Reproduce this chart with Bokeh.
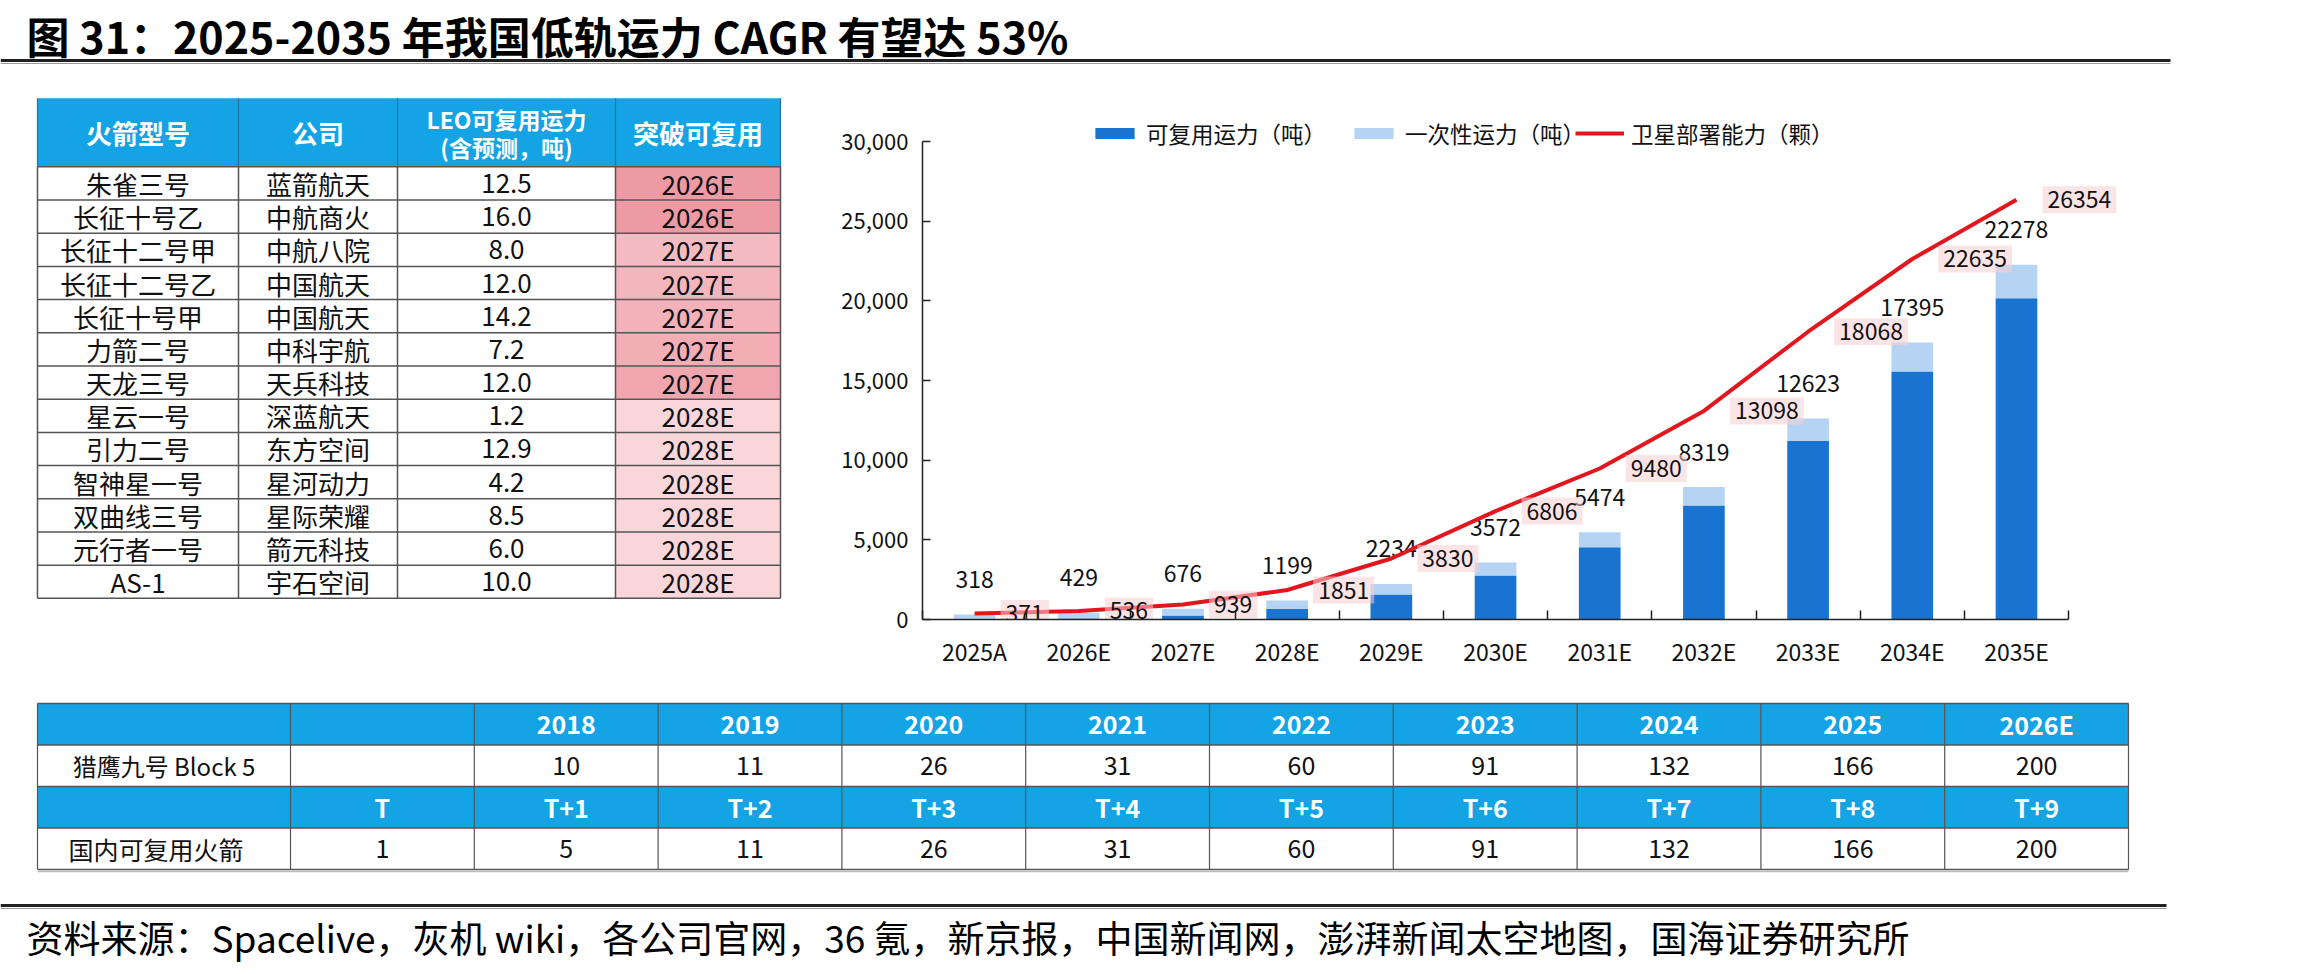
from bokeh.plotting import figure
from bokeh.layouts import column, row
from bokeh.models import Range1d, FixedTicker, NumeralTickFormatter, Legend, LegendItem
from bokeh.core.properties import value
from bokeh.embed import file_html
from bokeh.resources import INLINE

FONT = "Noto Sans CJK SC"

# ---------------- data ----------------
title_text = "图 31：2025-2035 年我国低轨运力 CAGR 有望达 53%"
source_text = "资料来源：Spacelive，灰机 wiki，各公司官网，36 氪，新京报，中国新闻网，澎湃新闻太空地图，国海证券研究所"

years = ["2025A", "2026E", "2027E", "2028E", "2029E", "2030E",
         "2031E", "2032E", "2033E", "2034E", "2035E"]
total_capacity = [318, 429, 676, 1199, 2234, 3572, 5474, 8319, 12623, 17395, 22278]
reusable_capacity = [0, 60, 250, 670, 1570, 2760, 4530, 7150, 11200, 15570, 20170]
satellite_capacity = [371, 536, 939, 1851, 3830, 6806, 9480, 13098, 18068, 22635, 26354]
y_tick_values = [0, 5000, 10000, 15000, 20000, 25000, 30000]
legend_labels = ["可复用运力（吨）", "一次性运力（吨）", "卫星部署能力（颗）"]

rocket_header = ["火箭型号", "公司", ["LEO可复用运力", "(含预测，吨)"], "突破可复用"]
rocket_names = ["朱雀三号", "长征十号乙", "长征十二号甲", "长征十二号乙", "长征十号甲", "力箭二号",
                "天龙三号", "星云一号", "引力二号", "智神星一号", "双曲线三号", "元行者一号", "AS-1"]
rocket_companies = ["蓝箭航天", "中航商火", "中航八院", "中国航天", "中国航天", "中科宇航",
                    "天兵科技", "深蓝航天", "东方空间", "星河动力", "星际荣耀", "箭元科技", "宇石空间"]
rocket_capacity = [12.5, 16.0, 8.0, 12.0, 14.2, 7.2, 12.0, 1.2, 12.9, 4.2, 8.5, 6.0, 10.0]
rocket_reuse_year = ["2026E", "2026E", "2027E", "2027E", "2027E", "2027E", "2027E",
                     "2028E", "2028E", "2028E", "2028E", "2028E", "2028E"]

f9_label = "猎鹰九号 Block 5"
f9_years = ["2018", "2019", "2020", "2021", "2022", "2023", "2024", "2025", "2026E"]
f9_launches = [10, 11, 26, 31, 60, 91, 132, 166, 200]
cn_label = "国内可复用火箭"
cn_periods = ["T", "T+1", "T+2", "T+3", "T+4", "T+5", "T+6", "T+7", "T+8", "T+9"]
cn_launches = [1, 5, 11, 26, 31, 60, 91, 132, 166, 200]

# ---------------- styles ----------------
DARK_BLUE = "#1874D0"
LIGHT_BLUE = "#B5D4F4"
RED = "#E3161E"
HEAD_BLUE = "#14A3E4"
GRID = "#555555"
reuse_fill = ["#EE9AA4", "#EE9AA4", "#F5BBC2", "#F4B6BD", "#F3B1B9", "#F2ADB5", "#F0A6AF",
              "#F9D6DA", "#F9D6DA", "#F9D6DA", "#F9D6DA", "#F9D6DA", "#F9D6DA"]

W, H = 2302, 974


def blank_fig(w, h, y_top, y_bottom):
    p = figure(width=w, height=h, x_range=Range1d(0, w), y_range=Range1d(y_bottom, y_top),
               toolbar_location=None, output_backend="svg",
               x_axis_location=None, y_axis_location=None, min_border=0)
    p.grid.visible = False
    p.outline_line_color = None
    p.background_fill_color = "white"
    p.border_fill_color = "white"
    return p


# ---------------- header ----------------
top = blank_fig(W, 95, 0, 95)
top.text(x=[26], y=[34], text=[title_text], text_font=value(FONT), text_font_size="43px",
         text_font_style="bold", text_baseline="middle", text_color="#000000")
top.segment(x0=[0], y0=[60], x1=[2170], y1=[60], line_width=3, line_color="#222222")
top.segment(x0=[0], y0=[63], x1=[2170], y1=[63], line_width=1, line_color="#999999")

# ---------------- left table ----------------
left = blank_fig(790, 595, 95, 690)
cx = [37, 238, 397, 615, 780]
ht, hb = 98, 176
nrow = len(rocket_names)
rh = (666 - hb) / nrow
row_top = [hb + i * rh for i in range(nrow)]
row_bot = [t + rh for t in row_top]
row_mid = [t + rh / 2 for t in row_top]
col_mid = [(cx[i] + cx[i + 1]) / 2 for i in range(4)]

left.quad(left=[cx[0]], right=[cx[-1]], top=[ht], bottom=[hb], fill_color=HEAD_BLUE, line_color=None)
left.quad(left=[cx[3]] * nrow, right=[cx[4]] * nrow, top=row_top, bottom=row_bot,
          fill_color=reuse_fill, line_color=None)
for i, h in enumerate(rocket_header):
    if isinstance(h, list):
        left.text(x=[col_mid[i]] * 2, y=[122, 153], text=h, text_font=value(FONT),
                  text_font_size="23px", text_font_style="bold", text_color="white",
                  text_align="center", text_baseline="middle")
    else:
        left.text(x=[col_mid[i]], y=[(ht + hb) / 2], text=[h], text_font=value(FONT),
                  text_font_size="26px", text_font_style="bold", text_color="white",
                  text_align="center", text_baseline="middle")
cols = [rocket_names, rocket_companies, [f"{v:.1f}" for v in rocket_capacity], rocket_reuse_year]
for i, c in enumerate(cols):
    left.text(x=[col_mid[i]] * nrow, y=row_mid, text=c, text_font=value(FONT),
              text_font_size="26px", text_color="#111111", text_align="center", text_baseline="middle")
left.segment(x0=[cx[0]] * nrow, y0=row_bot, x1=[cx[-1]] * nrow, y1=row_bot, line_color=GRID, line_width=1.5)
left.segment(x0=[cx[0]], y0=[hb], x1=[cx[-1]], y1=[hb], line_color=GRID, line_width=1.5)
left.segment(x0=cx, y0=[hb] * 5, x1=cx, y1=[666] * 5, line_color=GRID, line_width=1.5)
left.segment(x0=cx, y0=[ht] * 5, x1=cx, y1=[hb] * 5, line_color="#2A6E9E", line_width=1.2)

# ---------------- chart ----------------
xs = list(range(len(years)))
chart = figure(width=1512, height=595, x_range=Range1d(-0.5, 11.2), y_range=Range1d(0, 32900),
               toolbar_location=None, output_backend="svg",
               min_border_left=132, min_border_right=161, min_border_top=0, min_border_bottom=71)
chart.grid.visible = False
chart.outline_line_color = None

r1 = chart.vbar(x=xs, bottom=0, top=reusable_capacity, width=0.4, fill_color=DARK_BLUE, line_color=None)
r2 = chart.vbar(x=xs, bottom=reusable_capacity, top=total_capacity, width=0.4,
                fill_color=LIGHT_BLUE, line_color=None)
chart.text(x=xs, y=total_capacity, text=[str(v) for v in total_capacity], y_offset=-35,
           text_font=value(FONT), text_font_size="23px", text_color="#111111",
           text_align="center", text_baseline="middle")
r3 = chart.line(x=xs, y=satellite_capacity, line_color=RED, line_width=4)
chart.text(x=xs, y=satellite_capacity, text=[str(v) for v in satellite_capacity], x_offset=26,
           text_font=value(FONT), text_font_size="23px", text_color="#111111",
           text_align="left", text_baseline="middle",
           background_fill_color="#F7CDD2", background_fill_alpha=0.55, padding=5)

xa = chart.xaxis[0]
xa.ticker = FixedTicker(ticks=xs, minor_ticks=[i - 0.5 for i in range(len(years) + 1)])
xa.bounds = (-0.5, 10.5)
xa.major_label_overrides = {i: y for i, y in enumerate(years)}
xa.major_tick_line_color = None
xa.major_tick_in = 0
xa.major_tick_out = 0
xa.minor_tick_in = 9
xa.minor_tick_out = 0
xa.minor_tick_line_color = "#222222"
xa.minor_tick_line_width = 1.5
xa.axis_line_color = "#222222"
xa.axis_line_width = 1.5
xa.major_label_text_font = FONT
xa.major_label_text_font_size = "23px"
xa.major_label_text_color = "#111111"
xa.major_label_standoff = 14

ya = chart.yaxis[0]
ya.ticker = FixedTicker(ticks=y_tick_values)
ya.formatter = NumeralTickFormatter(format="0,0")
ya.bounds = (0, 30000)
ya.major_tick_in = 8
ya.major_tick_out = 0
ya.major_tick_line_color = "#222222"
ya.major_tick_line_width = 1.5
ya.minor_tick_line_color = None
ya.axis_line_color = "#222222"
ya.axis_line_width = 1.5
ya.major_label_text_font = FONT
ya.major_label_text_font_size = "22px"
ya.major_label_text_color = "#111111"
ya.major_label_standoff = 14

legend_style = dict(orientation="horizontal", glyph_width=49, glyph_height=14, label_standoff=7,
                    padding=0, margin=0, border_line_color=None, background_fill_alpha=0,
                    label_text_font=FONT, label_text_font_size="22.5px", label_text_color="#111111")
legend_a = Legend(items=[LegendItem(label=legend_labels[0], renderers=[r1]),
                         LegendItem(label=legend_labels[1], renderers=[r2])],
                  location=(168, 470), spacing=23, **legend_style)
legend_b = Legend(items=[LegendItem(label=legend_labels[2], renderers=[r3])],
                  location=(653, 470), spacing=0, **legend_style)
chart.add_layout(legend_a)
chart.add_layout(legend_b)

# ---------------- bottom table + footer ----------------
bot = blank_fig(W, 284, 690, 974)
bx = [37, 290] + [290 + (2128 - 290) / 10 * k for k in range(1, 11)]
by = [703 + (869 - 703) / 4 * k for k in range(5)]
bmid_x = [(bx[i] + bx[i + 1]) / 2 for i in range(11)]
bmid_y = [(by[i] + by[i + 1]) / 2 for i in range(4)]

bot.quad(left=[bx[0]] * 2, right=[bx[-1]] * 2, top=[by[0], by[2]], bottom=[by[1], by[3]],
         fill_color=HEAD_BLUE, line_color=None)
bot.text(x=bmid_x[2:], y=[bmid_y[0]] * len(f9_years), text=f9_years, text_font=value(FONT),
         text_font_size="25px", text_font_style="bold", text_color="white",
         text_align="center", text_baseline="middle")
bot.text(x=[bmid_x[0]], y=[bmid_y[1]], text=[f9_label], text_font=value(FONT),
         text_font_size="24px", text_color="#111111", text_align="center", text_baseline="middle")
bot.text(x=bmid_x[2:], y=[bmid_y[1]] * len(f9_launches), text=[str(v) for v in f9_launches],
         text_font=value(FONT), text_font_size="25px", text_color="#111111",
         text_align="center", text_baseline="middle")
bot.text(x=bmid_x[1:], y=[bmid_y[2]] * len(cn_periods), text=cn_periods, text_font=value(FONT),
         text_font_size="25px", text_font_style="bold", text_color="white",
         text_align="center", text_baseline="middle")
bot.text(x=[bmid_x[0] - 8], y=[bmid_y[3]], text=[cn_label], text_font=value(FONT),
         text_font_size="25px", text_color="#111111", text_align="center", text_baseline="middle")
bot.text(x=bmid_x[1:], y=[bmid_y[3]] * len(cn_launches), text=[str(v) for v in cn_launches],
         text_font=value(FONT), text_font_size="25px", text_color="#111111",
         text_align="center", text_baseline="middle")
bot.segment(x0=[bx[0]] * 5, y0=by, x1=[bx[-1]] * 5, y1=by, line_color=GRID, line_width=1.5)
bot.segment(x0=[bx[0]], y0=[by[-1] + 2], x1=[bx[-1]], y1=[by[-1] + 2], line_color="#BBBBBB", line_width=1.5)
bot.segment(x0=bx, y0=[by[0]] * len(bx), x1=bx, y1=[by[-1]] * len(bx), line_color=GRID, line_width=1.2)

bot.segment(x0=[0], y0=[905], x1=[2166], y1=[905], line_width=3, line_color="#222222")
bot.segment(x0=[0], y0=[908], x1=[2166], y1=[908], line_width=1, line_color="#999999")
bot.text(x=[26], y=[936], text=[source_text], text_font=value(FONT), text_font_size="37px",
         text_color="#000000", text_baseline="middle")

layout = column(top, row(left, chart), bot)
open("out.html", "w").write(file_html(layout, INLINE))
